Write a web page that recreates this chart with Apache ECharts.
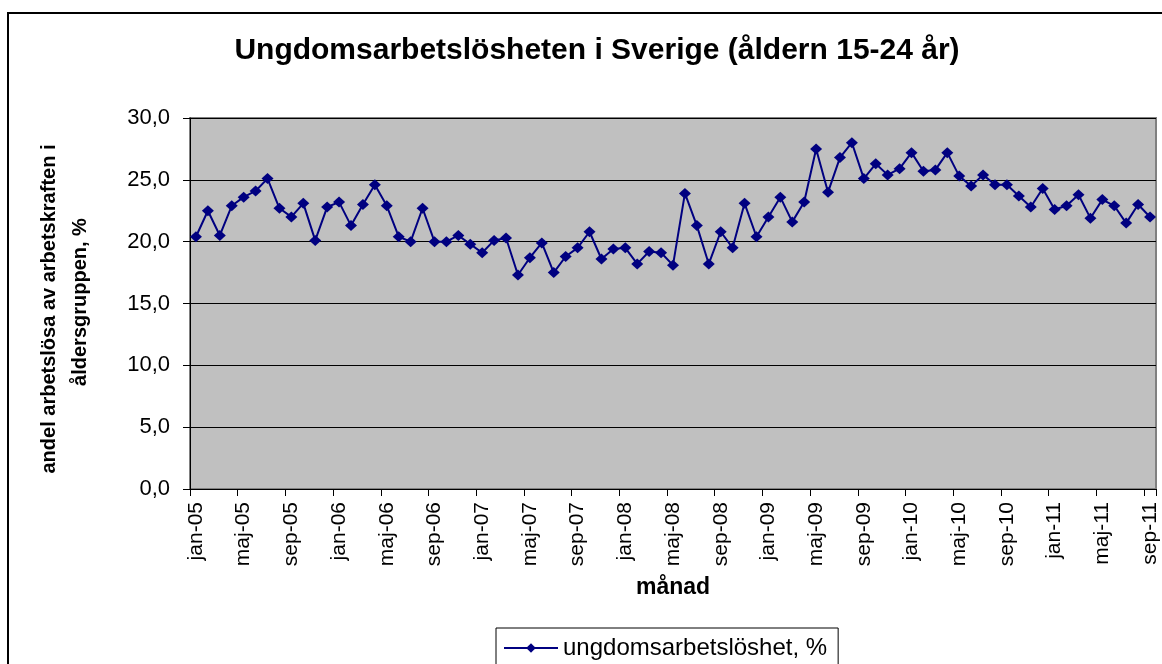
<!DOCTYPE html>
<html>
<head>
<meta charset="utf-8">
<script src="https://cdn.jsdelivr.net/npm/echarts@6/dist/echarts.min.js"></script>
<style>
html,body{margin:0;padding:0;background:#fff;}
#c{width:1162px;height:664px;}
</style>
</head>
<body>
<div id="c"></div>
<script>
var monthNames = ['jan','feb','mar','apr','maj','jun','jul','aug','sep','okt','nov','dec'];
var years = ['05','06','07','08','09','10','11'];
var lastMonthIndex = 8; // sep-11

var categories = [];
years.forEach(function (y, yi) {
  monthNames.forEach(function (m, mi) {
    if (yi === years.length - 1 && mi > lastMonthIndex) return;
    categories.push(m + '-' + y);
  });
});

var values2005 = [20.4, 22.5, 20.5, 22.9, 23.6, 24.1, 25.1, 22.7, 22.0, 23.1, 20.1, 22.8];
var values2006 = [23.2, 21.3, 23.0, 24.6, 22.9, 20.4, 20.0, 22.7, 20.0, 20.0, 20.5, 19.8];
var values2007 = [19.1, 20.1, 20.3, 17.3, 18.7, 19.9, 17.5, 18.8, 19.5, 20.8, 18.6, 19.4];
var values2008 = [19.5, 18.2, 19.2, 19.1, 18.1, 23.9, 21.3, 18.2, 20.8, 19.5, 23.1, 20.4];
var values2009 = [22.0, 23.6, 21.6, 23.2, 27.5, 24.0, 26.8, 28.0, 25.1, 26.3, 25.4, 25.9];
var values2010 = [27.2, 25.7, 25.8, 27.2, 25.3, 24.5, 25.4, 24.6, 24.6, 23.7, 22.8, 24.3];
var values2011 = [22.6, 22.9, 23.8, 21.9, 23.4, 22.9, 21.5, 23.0, 22.0];

var values = [].concat(values2005, values2006, values2007, values2008, values2009, values2010, values2011);

var yTicks = { min: 0, max: 30, interval: 5 };

var FONT = "'Liberation Sans', Arial, sans-serif";

var chart = echarts.init(document.getElementById('c'), null, { renderer: 'canvas' });
chart.setOption({
  backgroundColor: '#ffffff',
  animation: false,
  title: {
    text: 'Ungdomsarbetslösheten i Sverige (åldern 15-24 år)',
    left: 592,
    textAlign: 'center',
    top: 31,
    textStyle: { fontFamily: FONT, fontSize: 30, fontWeight: 'bold', color: '#000' }
  },
  legend: {
    data: ['ungdomsarbetslöshet, %'],
    left: 496,
    top: 628,
    padding: [8, 11, 8, 7],
    borderColor: '#000',
    borderWidth: 1,
    itemWidth: 54,
    itemHeight: 12,
    textStyle: { fontFamily: FONT, fontSize: 24, color: '#000' }
  },
  grid: {
    left: 190, top: 118, right: 6, bottom: 175,
    show: true,
    backgroundColor: '#c0c0c0',
    borderColor: '#808080',
    borderWidth: 2
  },
  xAxis: {
    type: 'category',
    data: categories,
    boundaryGap: true,
    name: 'månad',
    nameLocation: 'middle',
    nameGap: 87,
    nameTextStyle: { fontFamily: FONT, fontSize: 23, fontWeight: 'bold', color: '#000' },
    axisLine: { lineStyle: { color: '#000', width: 1 } },
    axisTick: { show: true, interval: 3, length: 7, alignWithLabel: false, lineStyle: { color: '#000' } },
    axisLabel: {
      interval: 3,
      rotate: 90,
      margin: 13,
      fontFamily: FONT,
      fontSize: 21,
      color: '#000'
    },
    splitLine: { show: false }
  },
  yAxis: {
    type: 'value',
    min: yTicks.min,
    max: yTicks.max,
    interval: yTicks.interval,
    axisLine: { show: true, lineStyle: { color: '#000', width: 1 } },
    axisTick: { show: true, length: 7, lineStyle: { color: '#000' } },
    axisLabel: {
      margin: 20,
      fontFamily: FONT,
      fontSize: 22,
      color: '#000',
      formatter: function (v) { return v.toFixed(1).replace('.', ','); }
    },
    splitLine: { show: true, lineStyle: { color: '#000', width: 1 } }
  },
  graphic: [
    {
      type: 'rect',
      shape: { x: 8, y: 13, width: 1200, height: 700 },
      style: { fill: 'none', stroke: '#000', lineWidth: 2 },
      silent: true,
      z: 100
    },
    {
      type: 'text',
      x: 49, y: 309,
      rotation: Math.PI / 2,
      style: {
        text: 'andel arbetslösa av arbetskraften i',
        font: "bold 20px 'Liberation Sans', Arial, sans-serif",
        fill: '#000',
        align: 'center',
        verticalAlign: 'middle'
      }
    },
    {
      type: 'text',
      x: 80, y: 302,
      rotation: Math.PI / 2,
      style: {
        text: 'åldersgruppen, %',
        font: "bold 20px 'Liberation Sans', Arial, sans-serif",
        fill: '#000',
        align: 'center',
        verticalAlign: 'middle'
      }
    }
  ],
  series: [{
    name: 'ungdomsarbetslöshet, %',
    type: 'line',
    data: values,
    symbol: 'diamond',
    symbolSize: [12, 11],
    showAllSymbol: true,
    lineStyle: { color: '#000080', width: 2 },
    itemStyle: { color: '#000080', borderWidth: 0 },
    emphasis: { disabled: true }
  }]
});
</script>
</body>
</html>
